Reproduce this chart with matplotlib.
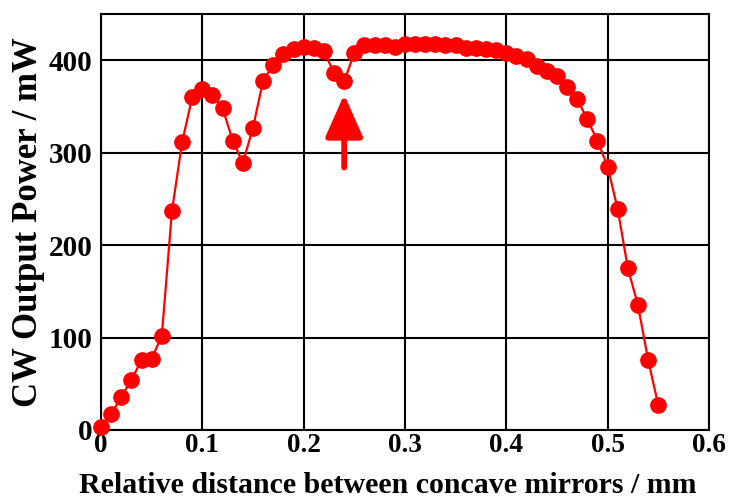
import matplotlib
matplotlib.use('Agg')
import matplotlib.pyplot as plt
import numpy as np

# relative distance (mm) and CW output power (mW)
distance = np.round(np.arange(0, 0.551, 0.01), 2)
power = [3, 17, 36, 54, 76, 77, 102, 237, 311, 360,
         369, 362, 348, 313, 289, 327, 378, 395, 407, 412,
         414, 413, 410, 386, 377, 408, 416, 417, 416, 414,
         418, 418, 418, 418, 417, 416, 413, 413, 412, 411,
         408, 405, 401, 394, 388, 383, 371, 358, 336, 313,
         285, 239, 175, 135, 76, 27]
arrow_x = 0.24
arrow_from, arrow_to = 284, 363

plt.rcParams['font.family'] = 'Liberation Serif'
plt.rcParams['font.weight'] = 'bold'

fig = plt.figure(figsize=(7.44, 5.0), dpi=100)
ax = fig.add_axes([0.1358, 0.14, 0.817, 0.832])

ax.plot(distance, power, color='red', lw=1.6, marker='o', ms=11, zorder=3, clip_on=False)
ax.annotate('', xy=(arrow_x, arrow_to), xytext=(arrow_x, arrow_from),
            arrowprops=dict(arrowstyle='-|>,head_length=2.6,head_width=1.15', color='red', lw=4.2,
                            mutation_scale=10, shrinkA=0, shrinkB=0, capstyle='round'), zorder=4)

ax.set_xlim(0, 0.6)
ax.set_ylim(0, 450)
ax.set_xticks([0, 0.1, 0.2, 0.3, 0.4, 0.5, 0.6])
ax.set_xticklabels(['0', '0.1', '0.2', '0.3', '0.4', '0.5', '0.6'])
ax.set_yticks([0, 100, 200, 300, 400])
ax.grid(True, color='black', lw=1.5)
ax.tick_params(length=0, labelsize=21)
ax.tick_params(axis='x', labelsize=19.5, pad=2)
ax.tick_params(axis='y', pad=6)
for s in ax.spines.values():
    s.set_linewidth(1.5)

ax.set_xlabel('Relative distance between concave mirrors / mm', fontsize=21.5, fontweight='bold')
ax.xaxis.set_label_coords(0.5215, 0.002, transform=fig.transFigure)
ax.xaxis.label.set_va('bottom')
ax.set_ylabel('CW Output Power / mW', fontsize=25, fontweight='bold', labelpad=3)

fig.savefig('out.png', dpi=100)
